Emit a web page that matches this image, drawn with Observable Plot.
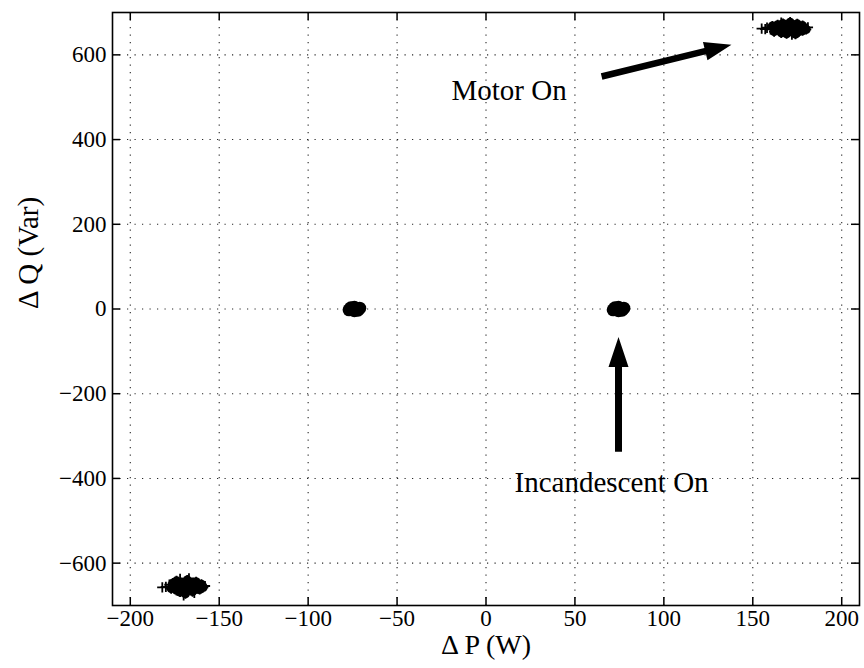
<!DOCTYPE html>
<html>
<head>
<meta charset="utf-8">
<script src="https://cdn.jsdelivr.net/npm/d3@7"></script>
<script src="https://cdn.jsdelivr.net/npm/@observablehq/plot@0.6"></script>
<style>
  html, body { margin: 0; padding: 0; background: #fff; }
  svg, svg text { font-family: "Times New Roman", Times, "Liberation Serif", "Nimbus Roman", "Noto Serif", "DejaVu Serif", serif !important; }
</style>
</head>
<body>
<div id="chart"></div>
<script>
// ---- data ----
const xTicks = [-200, -150, -100, -50, 0, 50, 100, 150, 200];
const yTicks = [-600, -400, -200, 0, 200, 400, 600];

// Motor On cluster (dP, dQ)
const motorOnP = [158,160,161,162,163,164,165,165,166,167,167,168,168,169,169,170,170,171,171,172,172,173,173,174,174,175,175,176,176,177,178,178,179,180,181,157,155,166,172,170];
const motorOnQ = [664,660,668,655,663,671,658,666,652,661,674,657,668,663,650,671,659,666,677,654,662,670,657,665,649,673,660,667,655,662,669,657,664,660,665,661,662,676,648,662];

// Motor Off cluster
const motorOffP = [-180,-178,-177,-176,-175,-174,-174,-173,-172,-172,-171,-170,-170,-169,-169,-168,-168,-167,-166,-166,-165,-165,-164,-163,-163,-162,-161,-160,-159,-158,-182,-170,-167,-172,-164];
const motorOffQ = [-656,-651,-660,-647,-655,-664,-642,-652,-659,-668,-646,-655,-663,-650,-672,-658,-640,-653,-662,-648,-656,-667,-651,-659,-644,-655,-662,-650,-657,-654,-657,-676,-636,-637,-670];

// Incandescent Off / On clusters
const incOffP = [-77,-76,-74,-74,-72,-71,-74];
const incOffQ = [-2,3,-4,4,-3,2,0];
const incOnP = [71.5,72.5,74.5,74.5,76.5,77.5,74.5];
const incOnQ = [-2,3,-4,4,-3,2,0];

// annotations
const labels = ["Motor On", "Incandescent On"];
const labelP = [13, 70.6];
const labelQ = [516, -410];
const arrowTailP = [65, 74.5];
const arrowTailQ = [549, -337];
const arrowTipP = [138, 74.5];
const arrowTipQ = [624, -66];

// ---- layout ----
const W = 864, H = 668;
const mL = 112, mR = 5, mT = 12, mB = 63;
const xDomain = [-210, 210], yDomain = [-700, 700];
const xs = d3.scaleLinear(xDomain, [mL, W - mR]);
const ys = d3.scaleLinear(yDomain, [H - mB, mT]);
const plotW = W - mL - mR, plotH = H - mT - mB;

const toPts = (P, Q) => P.map((p, i) => ({p, q: Q[i]}));
const motorOn = toPts(motorOnP, motorOnQ);
const motorOff = toPts(motorOffP, motorOffQ);
const incOff = toPts(incOffP, incOffQ);
const incOn = toPts(incOnP, incOnQ);
const ann = labels.map((t, i) => ({t, p: labelP[i], q: labelQ[i]}));

function arrowShape(hw, hl, hh) {
  return {
    draw(ctx, l) {
      ctx.moveTo(-hw, 0);
      ctx.lineTo(-hw, -(l - hl));
      ctx.lineTo(-hh, -(l - hl));
      ctx.lineTo(0, -l);
      ctx.lineTo(hh, -(l - hl));
      ctx.lineTo(hw, -(l - hl));
      ctx.lineTo(hw, 0);
      ctx.closePath();
    }
  };
}
const arrowMarks = arrowTailP.map((_, i) => {
  const dx = xs(arrowTipP[i]) - xs(arrowTailP[i]);
  const dy = ys(arrowTipQ[i]) - ys(arrowTailQ[i]);
  const len = Math.hypot(dx, dy);
  const rot = Math.atan2(dx, -dy) * 180 / Math.PI;
  return Plot.vector([{p: arrowTailP[i], q: arrowTailQ[i]}], {
    x: "p", y: "q", anchor: "start", length: len, rotate: rot,
    shape: i === 0 ? arrowShape(3.3, 27, 9.5) : arrowShape(3.5, 30, 10),
    fill: "black", stroke: "none"
  });
});

const chart = Plot.plot({
  width: W, height: H,
  marginLeft: mL, marginRight: mR, marginTop: mT, marginBottom: mB,
  style: {background: "white", color: "black"},
  x: {domain: xDomain},
  y: {domain: yDomain},
  marks: [
    Plot.gridX(xTicks, {stroke: "black", strokeOpacity: 0.85, strokeWidth: 1.1, strokeDasharray: "1.2,6.3"}),
    Plot.gridY(yTicks, {stroke: "black", strokeOpacity: 0.85, strokeWidth: 1.1, strokeDasharray: "1.2,6.3"}),
    // inward ticks on all four sides
    Plot.ruleX(xTicks, {x: d => d, insetTop: plotH - 8, stroke: "black", strokeWidth: 1.5}),
    Plot.ruleX(xTicks, {x: d => d, insetBottom: plotH - 8, stroke: "black", strokeWidth: 1.5}),
    Plot.ruleY(yTicks, {y: d => d, insetRight: plotW - 8, stroke: "black", strokeWidth: 1.5}),
    Plot.ruleY(yTicks, {y: d => d, insetLeft: plotW - 8, stroke: "black", strokeWidth: 1.5}),
    Plot.axisX(xTicks, {tickSize: 0, tickPadding: 4, fontSize: 23, label: null}),
    Plot.axisY(yTicks, {tickSize: 0, tickPadding: 6, fontSize: 23, label: null}),
    Plot.frame({stroke: "black", strokeWidth: 1.6}),
    // clusters
    Plot.dot(motorOn, {x: "p", y: "q", symbol: "plus", r: 3.4, stroke: "black", strokeWidth: 1.8}),
    Plot.dot(motorOn.slice(2, 34), {x: "p", y: "q", r: 4.6, fill: "black"}),
    Plot.dot(motorOff, {x: "p", y: "q", symbol: "plus", r: 3.4, stroke: "black", strokeWidth: 1.8}),
    Plot.dot(motorOff.slice(2, 29), {x: "p", y: "q", r: 4.6, fill: "black"}),
    Plot.dot(incOff, {x: "p", y: "q", r: 6.5, fill: "black"}),
    Plot.dot(incOn, {x: "p", y: "q", r: 6.5, fill: "black"}),
    // annotations
    ...arrowMarks,
    Plot.text(ann, {x: "p", y: "q", text: "t", fontSize: 29, fill: "black", textAnchor: "middle"}),
    Plot.text(["Δ P (W)"], {frameAnchor: "bottom", dy: 48, fontSize: 28, fill: "black"}),
    Plot.text(["Δ Q (Var)"], {frameAnchor: "left", dx: -84, rotate: -90, fontSize: 29, fill: "black"})
  ]
});
document.getElementById("chart").appendChild(chart);
</script>
</body>
</html>
